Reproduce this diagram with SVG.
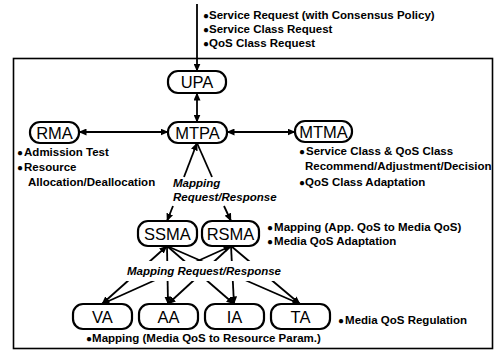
<svg xmlns="http://www.w3.org/2000/svg" width="502" height="352" viewBox="0 0 502 352">
<defs>
<marker id="ah" viewBox="0 0 8 7" refX="7.5" refY="3.5" markerWidth="8" markerHeight="7" markerUnits="userSpaceOnUse" orient="auto-start-reverse">
<path d="M0,0 L8,3.5 L0,7 z" fill="#000"/>
</marker>
<style>
.box{fill:#fff;stroke:#000;stroke-width:2.2}
.bl{font-family:"Liberation Sans",Arial,sans-serif;font-size:16.5px;fill:#000;text-anchor:middle}
.note{font-family:"Liberation Sans",Arial,sans-serif;font-size:11.5px;font-weight:bold;fill:#000}
.it{font-family:"Liberation Sans",Arial,sans-serif;font-size:11.5px;font-weight:bold;font-style:italic;fill:#000}
.c{stroke:#000;stroke-width:1.8;fill:none}
.b{font-size:10px}
</style>
</defs>
<rect width="502" height="352" fill="#fff"/>
<rect x="13.5" y="58.5" width="479" height="290" fill="none" stroke="#000" stroke-width="1.6"/>

<g id="connectors">
<line class="c" x1="197" y1="4" x2="197" y2="71" marker-end="url(#ah)"/>
<line class="c" x1="197" y1="93" x2="197" y2="122" marker-start="url(#ah)" marker-end="url(#ah)"/>
<line class="c" x1="79" y1="132" x2="168" y2="132" marker-start="url(#ah)" marker-end="url(#ah)"/>
<line class="c" x1="227" y1="132" x2="295" y2="132" marker-start="url(#ah)" marker-end="url(#ah)"/>
<line class="c" x1="197" y1="143" x2="184" y2="177" marker-start="url(#ah)"/>
<line class="c" x1="197" y1="143" x2="212" y2="177"/>
<line class="c" x1="173" y1="206" x2="167" y2="221" marker-end="url(#ah)"/>
<line class="c" x1="224" y1="206" x2="231" y2="221" marker-end="url(#ah)"/>
<line class="c" x1="167" y1="246" x2="102" y2="304" marker-start="url(#ah)" marker-end="url(#ah)"/>
<line class="c" x1="167" y1="246" x2="168" y2="304" marker-end="url(#ah)"/>
<line class="c" x1="167" y1="246" x2="234" y2="304" marker-end="url(#ah)"/>
<line class="c" x1="167" y1="246" x2="300" y2="304" marker-end="url(#ah)"/>
<line class="c" x1="231" y1="246" x2="102" y2="304" marker-start="url(#ah)" marker-end="url(#ah)"/>
<line class="c" x1="231" y1="246" x2="168" y2="304" marker-end="url(#ah)"/>
<line class="c" x1="231" y1="246" x2="234" y2="304" marker-end="url(#ah)"/>
<line class="c" x1="231" y1="246" x2="300" y2="304" marker-end="url(#ah)"/>
<rect x="124" y="261" width="162" height="20" fill="#fff"/>
<text class="it" x="173" y="187">Mapping</text>
<text class="it" x="173" y="201">Request/Response</text>
<text class="it" x="127" y="275">Mapping Request/Response</text>
</g>

<g id="UPA"><rect class="box" x="168" y="71" width="58" height="22" rx="10"/><text class="bl" x="197" y="88">UPA</text></g>
<g id="MTPA"><rect class="box" x="168" y="122" width="59" height="21" rx="10"/><text class="bl" x="197.5" y="138.5">MTPA</text></g>
<g id="RMA"><rect class="box" x="30" y="122" width="49" height="21" rx="10"/><text class="bl" x="54.5" y="138.5">RMA</text></g>
<g id="MTMA"><rect class="box" x="295" y="121" width="57" height="21" rx="10"/><text class="bl" x="323.5" y="137.5">MTMA</text></g>
<g id="SSMA"><rect class="box" x="138" y="221" width="59" height="25" rx="10"/><text class="bl" x="167.5" y="239.5">SSMA</text></g>
<g id="RSMA"><rect class="box" x="202" y="221" width="57" height="25" rx="10"/><text class="bl" x="230.5" y="239.5">RSMA</text></g>
<g id="VA"><rect class="box" x="73" y="304" width="59" height="25" rx="10"/><text class="bl" x="102.5" y="322.5">VA</text></g>
<g id="AA"><rect class="box" x="139" y="304" width="59" height="25" rx="10"/><text class="bl" x="168.5" y="322.5">AA</text></g>
<g id="IA"><rect class="box" x="205" y="304" width="59" height="25" rx="10"/><text class="bl" x="234.5" y="322.5">IA</text></g>
<g id="TA"><rect class="box" x="271" y="304" width="59" height="25" rx="10"/><text class="bl" x="300.5" y="322.5">TA</text></g>

<g id="notes">
<text class="note" x="203" y="19"><tspan class="b" dy="-0.5">●</tspan><tspan dy="0.5">Service Request (with Consensus Policy)</tspan></text>
<text class="note" x="203" y="33"><tspan class="b" dy="-0.5">●</tspan><tspan dy="0.5">Service Class Request</tspan></text>
<text class="note" x="203" y="47"><tspan class="b" dy="-0.5">●</tspan><tspan dy="0.5">QoS Class Request</tspan></text>
<text class="note" x="17" y="156"><tspan class="b" dy="-0.5">●</tspan><tspan dy="0.5" dx="1">Admission Test</tspan></text>
<text class="note" x="17" y="171"><tspan class="b" dy="-0.5">●</tspan><tspan dy="0.5" dx="1">Resource</tspan></text>
<text class="note" x="28" y="186">Allocation/Deallocation</text>
<text class="note" x="299" y="155"><tspan class="b" dy="-0.5">●</tspan><tspan dy="0.5" dx="1">Service Class &amp; QoS Class</tspan></text>
<text class="note" x="305" y="170">Recommend/Adjustment/Decision</text>
<text class="note" x="299" y="186"><tspan class="b" dy="-0.5">●</tspan><tspan dy="0.5">QoS Class Adaptation</tspan></text>
<text class="note" x="267" y="231"><tspan class="b" dy="-0.5">●</tspan><tspan dy="0.5" dx="1">Mapping (App. QoS to Media QoS)</tspan></text>
<text class="note" x="267" y="245"><tspan class="b" dy="-0.5">●</tspan><tspan dy="0.5" dx="1">Media QoS Adaptation</tspan></text>
<text class="note" x="338" y="324"><tspan class="b" dy="-0.5">●</tspan><tspan dy="0.5" dx="1">Media QoS Regulation</tspan></text>
<text class="note" x="86" y="342"><tspan class="b" dy="-0.5">●</tspan><tspan dy="0.5">Mapping (Media QoS to Resource Param.)</tspan></text>
</g>
</svg>
